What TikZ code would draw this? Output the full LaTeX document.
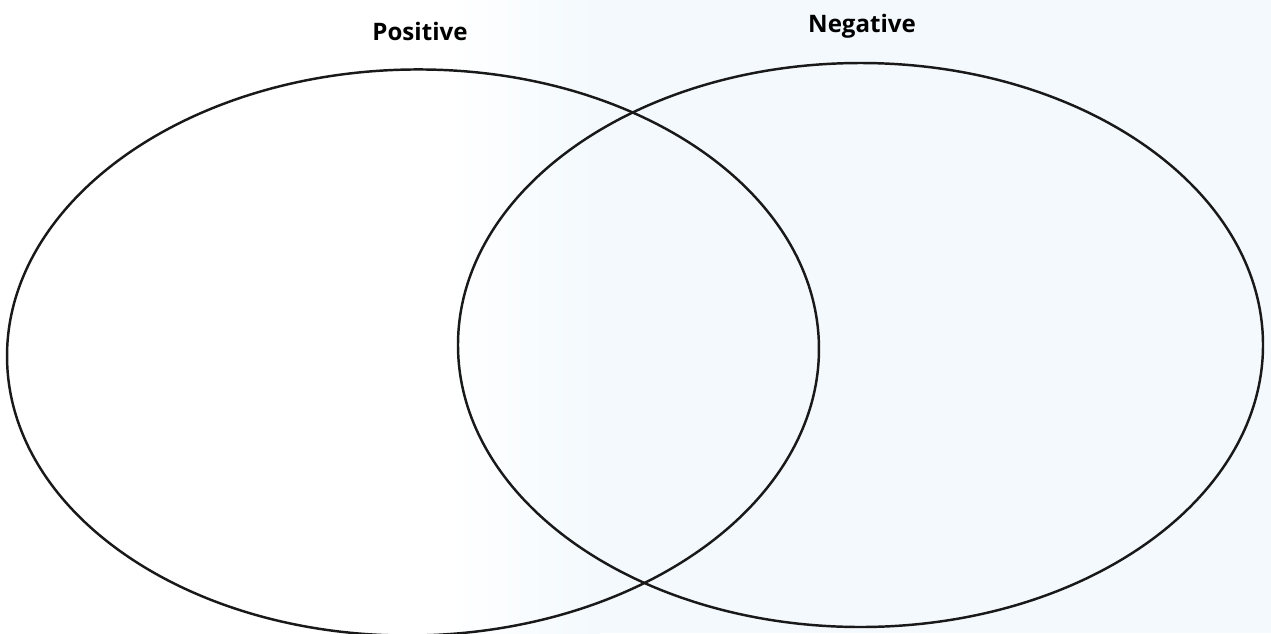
\documentclass[tikz,border=0pt]{standalone}
\usepackage{fontspec}
\setmainfont{Open Sans}
\usetikzlibrary{shapes.geometric}
\definecolor{tint}{RGB}{243,249,253}
\begin{document}
\begin{tikzpicture}[
  venn/.style={draw=black!90, line width=1.4pt, ellipse, inner sep=0pt},
  lbl/.style={font=\fontsize{13.7}{16}\selectfont\bfseries, anchor=base, inner sep=0pt}
]
\useasboundingbox (0,0) rectangle (25.42,-12.66);
\shade[left color=white, right color=tint] (9.0,0) rectangle (12.0,-12.66);
\fill[tint] (12.0,0) rectangle (25.42,-12.66);
\node[venn, rotate=1, minimum width=16.24cm, minimum height=11.32cm] (pos) at (8.26,-7.05) {};
\node[venn, minimum width=16.1cm, minimum height=11.28cm] (neg) at (17.21,-6.9) {};
\node[lbl] (poslbl) at (8.4,-0.8) {Positive};
\node[lbl] (neglbl) at (17.24,-0.64) {Negative};
\end{tikzpicture}
\end{document}
